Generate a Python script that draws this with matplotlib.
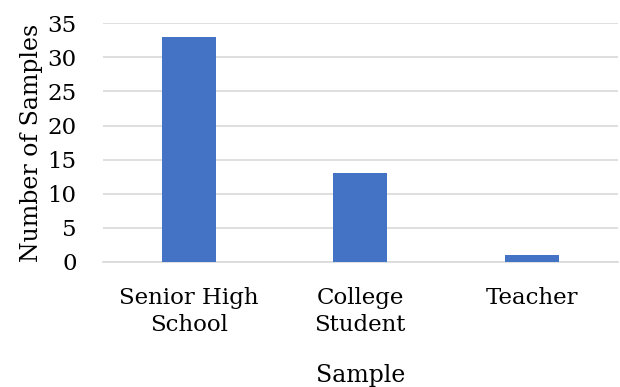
import matplotlib.pyplot as plt

categories = ["Senior High\nSchool", "College\nStudent", "Teacher"]
counts = [33, 13, 1]
y_ticks = [0, 5, 10, 15, 20, 25, 30, 35]

plt.rcParams["font.family"] = ["DejaVu Serif"]

fig = plt.figure(figsize=(6.2, 3.87), dpi=100)
ax = fig.add_axes([0.166, 0.323, 0.83, 0.617])

x = range(len(categories))
ax.bar(x, counts, width=0.315, color="#4472C4", zorder=3)

ax.set_xlim(-0.5, len(categories) - 0.5)
ax.set_ylim(0, 35)
ax.set_yticks(y_ticks)
ax.set_xticks(list(x))
ax.set_xticklabels(categories, fontsize=16.5, linespacing=1.3)
ax.tick_params(axis="y", labelsize=16.5, length=0, pad=19)
ax.tick_params(axis="x", length=0, pad=18)

ax.grid(axis="y", color="#d9d9d9", linewidth=1.2, zorder=0)
for side in ["top", "right", "left"]:
    ax.spines[side].set_visible(False)
ax.spines["bottom"].set_color("#d9d9d9")
ax.spines["bottom"].set_linewidth(1.2)

ax.set_xlabel("Sample", fontsize=17, labelpad=20)
ax.set_ylabel("Number of Samples", fontsize=17, labelpad=3)

fig.savefig("out.png", dpi=100)
